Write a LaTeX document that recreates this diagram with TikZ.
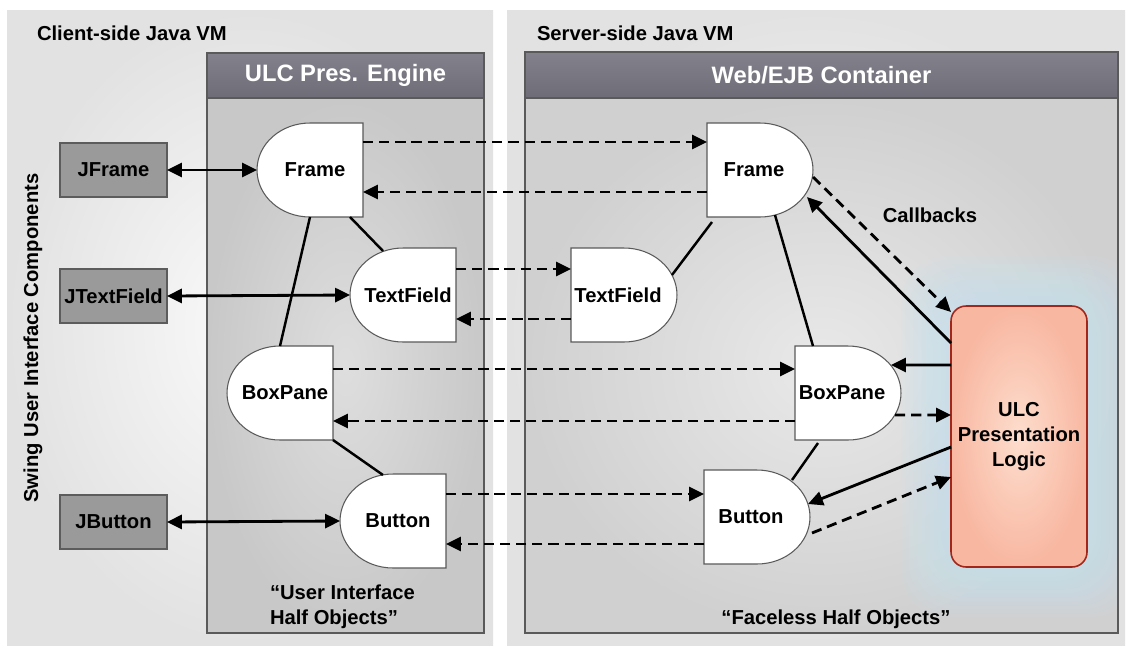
\documentclass[tikz,border=0pt]{standalone}
\usepackage{fontspec}
\setmainfont{Liberation Sans}
\usetikzlibrary{arrows.meta,calc}
\definecolor{hdrtop}{HTML}{83828C}
\definecolor{hdrbot}{HTML}{6E6D77}
\definecolor{ulcin}{HTML}{DEDEDE}
\definecolor{ulcout}{HTML}{C8C8C8}
\definecolor{webin}{HTML}{E9E9E9}
\definecolor{webout}{HTML}{D0D0D0}
\definecolor{panin}{HTML}{FAFAFA}
\definecolor{panout}{HTML}{E2E2E2}
\definecolor{boxln}{HTML}{5A5A5A}
\definecolor{swingf}{HTML}{9A9A9A}
\definecolor{swingb}{HTML}{5C5C5C}
\definecolor{logicin}{HTML}{FDDDCD}
\definecolor{logicout}{HTML}{F8B7A1}
\definecolor{logicb}{HTML}{A3261A}
\definecolor{glow}{HTML}{C6E6F2}
\tikzset{
  txt/.style={font=\fontsize{11.5}{14.2}\selectfont\bfseries, inner sep=0pt, outer sep=0pt},
  hdrtext/.style={font=\fontsize{13.5}{16}\selectfont\bfseries, text=white, inner sep=0pt},
  dbox/.style={rectangle, draw=none, minimum width=2.12cm, minimum height=1.88cm, inner sep=0pt, outer sep=0pt},
  dshape/.style={fill=white, draw=boxln, line width=0.6pt},
  swingbox/.style={txt, rectangle, fill=swingf, draw=swingb, line width=0.6pt, minimum width=2.14cm, minimum height=1.08cm},
  logicbox/.style={txt, rectangle, rounded corners=8.5pt, draw=logicb, line width=0.9pt, inner color=logicin, outer color=logicout, minimum width=2.72cm, minimum height=5.22cm, align=center},
  tip/.tip={Triangle[length=8.5pt,width=8pt]},
  arr/.style={line width=1.6pt, -tip},
  darr/.style={arr, dash pattern=on 5.8pt off 3.4pt},
  biarr/.style={line width=1.6pt, tip-tip},
  link/.style={line width=1.4pt},
  boxline/.style={draw=boxln, line width=0.7pt},
}
% half object, round on the left (client side)
\newcommand\halfL[4]{%
  \node[dbox] (#1) at (#2,#3) {};
  \filldraw[dshape] (#1.north) -- (#1.north east) -- (#1.south east) -- (#1.south)
    .. controls ($(#1.south)!0.5523!(#1.south west)$) and ($(#1.west)!0.5523!(#1.south west)$) .. (#1.west)
    .. controls ($(#1.west)!0.5523!(#1.north west)$) and ($(#1.north)!0.5523!(#1.north west)$) .. (#1.north) -- cycle;
  \node[txt] (#1-t) at ($(#1)+(5,0)$) {#4};}
% half object, round on the right (server side)
\newcommand\halfR[4]{%
  \node[dbox] (#1) at (#2,#3) {};
  \filldraw[dshape] (#1.north) -- (#1.north west) -- (#1.south west) -- (#1.south)
    .. controls ($(#1.south)!0.5523!(#1.south east)$) and ($(#1.east)!0.5523!(#1.south east)$) .. (#1.east)
    .. controls ($(#1.east)!0.5523!(#1.north east)$) and ($(#1.north)!0.5523!(#1.north east)$) .. (#1.north) -- cycle;
  \node[txt] (#1-t) at ($(#1)+(-6,0)$) {#4};}
\begin{document}
\begin{tikzpicture}[x=0.02cm,y=-0.02cm]
\useasboundingbox[fill=white] (0,0) rectangle (1129,650);

% panels
\shade[inner color=panin, outer color=panout] (7,10) rectangle (493,645);
\shade[inner color=panin, outer color=panout] (507,10) rectangle (1125,645);
\node[txt, anchor=west] (client) at (37,33) {Client-side Java VM};
\node[txt, anchor=west] (server) at (537,33) {Server-side Java VM};

% ULC Pres. Engine
\shade[inner color=ulcin, outer color=ulcout] (207,98) rectangle (484,633);
\shade[top color=hdrtop, bottom color=hdrbot] (207,53) rectangle (484,98);
\draw[boxline] (207,53) rectangle (484,633);
\draw[boxline] (207,98) -- (484,98);
\node[hdrtext] (ulchdr) at (345.5,75.5) {ULC Pres. Engine};

% Web/EJB Container
\shade[inner color=webin, outer color=webout] (525,98) rectangle (1118,633);
\shade[top color=hdrtop, bottom color=hdrbot] (525,52) rectangle (1118,98);
\begin{scope}
  \clip (525,98) rectangle (1118,633);
  \foreach \e in {50,46,...,2}
    \fill[glow, fill opacity=0.09, rounded corners=26pt] (951-\e,306-\e) rectangle (1087+\e,567+\e);
\end{scope}
\draw[boxline] (525,52) rectangle (1118,633);
\draw[boxline] (525,98) -- (1118,98);
\node[hdrtext] (webhdr) at (821.5,75.5) {Web/EJB Container};

% Swing components
\node[txt, rotate=90] (swing) at (33,338) {Swing User Interface Components};
\node[swingbox] (jf) at (113.5,170) {JFrame};
\node[swingbox] (jt) at (113.5,296) {JTextField};
\node[swingbox] (jb) at (113.5,522) {JButton};

% half objects
\halfL{cF}{310}{170}{Frame}
\halfL{cT}{403}{295}{TextField}
\halfL{cB}{280}{393}{BoxPane}
\halfL{cBt}{393}{521}{Button}
\halfR{sF}{760}{170}{Frame}
\halfR{sT}{624}{295}{TextField}
\halfR{sB}{848}{393}{BoxPane}
\halfR{sBt}{757}{517}{Button}

% presentation logic
\node[logicbox] (logic) at (1019,436.5) {ULC\\Presentation\\Logic};

% labels
\node[txt] (cb) at (930,215) {Callbacks};
\node[txt, anchor=west, align=left] (uiho) at (270,607) {“User Interface\\Half Objects”};
\node[txt] (fho) at (836,619) {“Faceless Half Objects”};

% swing <-> client half objects
\draw[biarr] (jf.east) -- (cF.west);
\draw[biarr] (jt.east) -- (cT.west);
\draw[biarr] (jb.east) -- (cBt.west);

% client <-> server dashed
\coordinate (h1) at (0,142); \coordinate (h2) at (0,192);
\coordinate (h3) at (0,269); \coordinate (h4) at (0,319);
\coordinate (h5) at (0,369); \coordinate (h6) at (0,421);
\coordinate (h7) at (0,494); \coordinate (h8) at (0,544);
\draw[darr] (cF.east |- h1) -- (sF.west |- h1);
\draw[darr] (sF.west |- h2) -- (cF.east |- h2);
\draw[darr] (cT.east |- h3) -- (sT.west |- h3);
\draw[darr] (sT.west |- h4) -- (cT.east |- h4);
\draw[darr] (cB.east |- h5) -- (sB.west |- h5);
\draw[darr] (sB.west |- h6) -- (cB.east |- h6);
\draw[darr] (cBt.east |- h7) -- (sBt.west |- h7);
\draw[darr] (sBt.west |- h8) -- (cBt.east |- h8);

% client tree
\draw[link] (cF.south) -- (cB.north);
\draw[link] ($(cF.south)+(40,0)$) -- ($(cT.center)+(-20,-44)$);
\draw[link] (cB.south east) -- ($(cBt.center)+(-10,-46)$);

% server tree
\draw[link] ($(sF.south west)+(5,5)$) -- ($(sT.center)+(48,-20)$);
\draw[link] ($(sF.center)+(15,45)$) -- ($(sB.north)+(-35,0)$);
\draw[link] ($(sB.south)+(-30,3)$) -- ($(sBt.center)+(35,-37)$);

% logic <-> server half objects
\draw[arr]  ($(logic.north west)+(0,37)$) -- ($(sF.center)+(47,27)$);
\draw[darr] ($(sF.center)+(53,7)$) -- ($(logic.north west)+(0,6)$);
\draw[arr]  ($(logic.north west)+(0,59)$) -- ($(sB.center)+(43,-28)$);
\draw[darr] ($(sB.center)+(47,22)$) -- ($(logic.north west)+(0,109)$);
\draw[arr]  ($(logic.north west)+(0,141)$) -- ($(sBt.center)+(51,-13)$);
\draw[darr] ($(sBt.center)+(55,16)$) -- ($(logic.north west)+(0,171)$);
\end{tikzpicture}
\end{document}
